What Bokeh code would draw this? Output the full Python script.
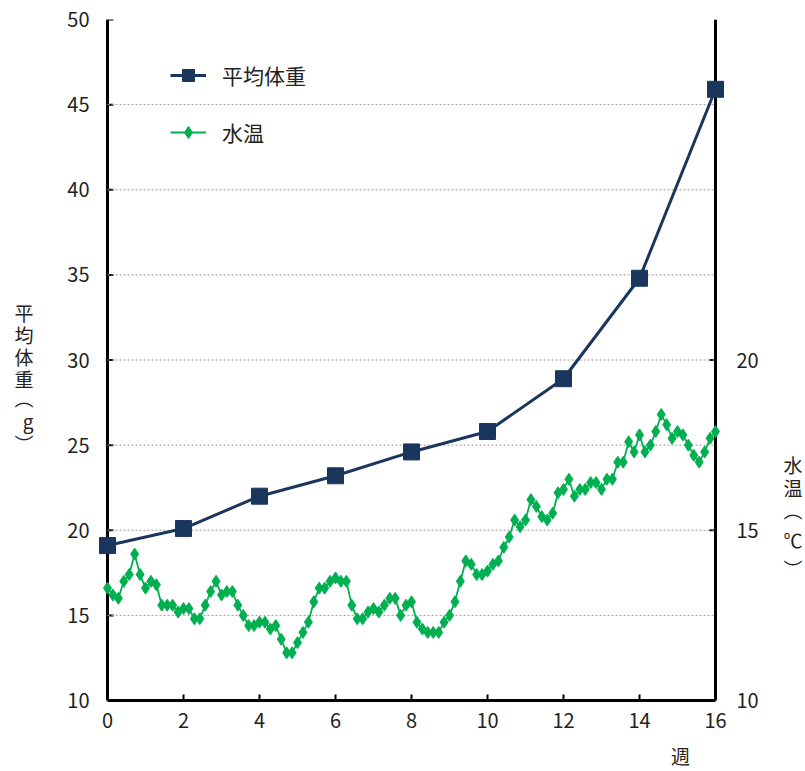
from bokeh.plotting import figure
from bokeh.models import (Range1d, LinearAxis, FixedTicker, Legend, LegendItem,
                          AllLabels)
from bokeh.embed import file_html
from bokeh.resources import INLINE

# Average body weight (g), measured every two weeks
weeks = [0, 2, 4, 6, 8, 10, 12, 14, 16]
weight = [19.1, 20.1, 22.0, 23.2, 24.6, 25.8, 28.9, 34.8, 45.9]

# Daily water temperature (°C), day 0 .. day 112
temp_days = list(range(113))
water_temp = [
    13.3, 13.1, 13.0, 13.5, 13.7, 14.3, 13.7, 13.3, 13.5, 13.4,
    12.8, 12.8, 12.8, 12.6, 12.7, 12.7, 12.4, 12.4, 12.8, 13.2,
    13.5, 13.1, 13.2, 13.2, 12.8, 12.5, 12.2, 12.2, 12.3, 12.3,
    12.1, 12.2, 11.8, 11.4, 11.4, 11.7, 12.0, 12.3, 12.9, 13.3,
    13.3, 13.5, 13.6, 13.5, 13.5, 12.8, 12.4, 12.4, 12.6, 12.7,
    12.6, 12.8, 13.0, 13.0, 12.5, 12.8, 12.9, 12.3, 12.1, 12.0,
    12.0, 12.0, 12.3, 12.5, 12.9, 13.5, 14.1, 14.0, 13.7, 13.7,
    13.8, 14.0, 14.1, 14.5, 14.8, 15.3, 15.1, 15.3, 15.9, 15.7,
    15.4, 15.3, 15.5, 16.1, 16.2, 16.5, 16.0, 16.2, 16.2, 16.4,
    16.4, 16.2, 16.5, 16.5, 17.0, 17.0, 17.6, 17.3, 17.8, 17.3,
    17.5, 17.9, 18.4, 18.1, 17.7, 17.9, 17.8, 17.5, 17.2, 17.0,
    17.3, 17.7, 17.9,
]
temp_weeks = [d / 7 for d in temp_days]

weight_ticks = [10, 15, 20, 25, 30, 35, 40, 45, 50]
grid_levels = [15, 20, 25, 30, 35, 40, 45]
temp_ticks = [10, 15, 20]
week_ticks = [0, 2, 4, 6, 8, 10, 12, 14, 16]

FONT = "Noto Sans CJK JP"
NAVY = "#1b365d"
GREEN = "#00b050"
TEXT = "#222222"

X0, X1 = 0, 16
W0, W1 = 10, 50
T0, T1 = 10, 30
PAD = 10                      # px of side padding so the end markers stay whole
PX_X = 608 / (X1 - X0)        # px per week
PX_W = 683 / (W1 - W0)        # px per gram
TICK = 6                      # inward tick length, px

p = figure(width=805, height=771, output_backend="svg", toolbar_location=None,
           x_range=Range1d(X0 - PAD / PX_X, X1 + PAD / PX_X),
           y_range=Range1d(W0, W1),
           min_border_left=107 - PAD, min_border_right=90 - PAD,
           min_border_top=19, min_border_bottom=69)
p.outline_line_color = None
p.background_fill_color = "white"
p.border_fill_color = "white"
p.extra_y_ranges = {"temp": Range1d(T0, T1)}
p.xgrid.visible = False
p.ygrid.visible = False


def label_only(ax, standoff, size="20px"):
    ax.axis_line_color = None
    ax.major_tick_line_color = None
    ax.major_tick_in = 0
    ax.major_tick_out = 0
    ax.minor_tick_line_color = None
    ax.minor_tick_in = 0
    ax.minor_tick_out = 0
    ax.major_label_text_font = FONT
    ax.major_label_text_font_size = size
    ax.major_label_text_color = TEXT
    ax.major_label_standoff = standoff
    ax.major_label_policy = AllLabels()


# bottom axis: real line and inward ticks, limited to the data box
xa = p.xaxis[0]
xa.ticker = FixedTicker(ticks=week_ticks)
xa.bounds = (X0, X1)
label_only(xa, 12)
xa.axis_line_color = "black"
xa.axis_line_width = 3
xa.major_tick_line_color = "black"
xa.major_tick_line_width = 2
xa.major_tick_in = TICK

# left and right axes carry the numbers; their lines are drawn at x = 0 / 16
ya = p.yaxis[0]
ya.ticker = FixedTicker(ticks=weight_ticks)
label_only(ya, 8)

right = LinearAxis(y_range_name="temp", ticker=FixedTicker(ticks=temp_ticks))
label_only(right, 11)
p.add_layout(right, "right")


def px_y(py):
    return round(W0 + (702 - py) / PX_W, 2)


def px_x(px):
    return round(X0 + (px - 107) / PX_X, 2)


# axis titles, set upright one character per row
def title_axis(chars, rows, side, standoff):
    ys = [px_y(r) for r in rows]
    ax = LinearAxis(ticker=FixedTicker(ticks=ys),
                    major_label_overrides=dict(zip(ys, chars)))
    label_only(ax, standoff, "19px")
    p.add_layout(ax, side)


title_axis(["平", "均", "体", "重", "︵", "g", "︶"],
           [313, 335, 357, 379, 398, 421, 444], "left", 31)
title_axis(["水", "温", "︵", "℃", "︶"],
           [465, 488, 510, 541, 570], "right", 22)

wk = px_x(680)
week_title = LinearAxis(ticker=FixedTicker(ticks=[wk]),
                        major_label_overrides={wk: "週"})
label_only(week_title, 11, "19px")
p.add_layout(week_title, "below")

# vertical axis lines and their inward ticks
p.segment(x0=[X0], x1=[X0], y0=[W0], y1=[W1], line_color="black", line_width=3)
p.segment(x0=[X1], x1=[X1], y0=[T0], y1=[T1], y_range_name="temp",
          line_color="black", line_width=3)
p.segment(x0=[X0] * len(weight_ticks), x1=[X0 + TICK / PX_X] * len(weight_ticks),
          y0=weight_ticks, y1=weight_ticks, line_color="black", line_width=2)
p.segment(x0=[X1 - TICK / PX_X] * len(temp_ticks), x1=[X1] * len(temp_ticks),
          y0=temp_ticks, y1=temp_ticks, y_range_name="temp",
          line_color="black", line_width=2)

# dotted horizontal guides between the two vertical axes
p.segment(x0=[X0] * len(grid_levels), x1=[X1] * len(grid_levels),
          y0=grid_levels, y1=grid_levels,
          line_color="#9a9a9a", line_dash="2 2", line_width=1)

# water temperature series
t_line = p.line(temp_weeks, water_temp, y_range_name="temp",
                line_color=GREEN, line_width=1.8)
t_pts = p.scatter(temp_weeks, water_temp, y_range_name="temp", marker="diamond",
                  size=12, fill_color=GREEN, line_color=GREEN)

# body weight series
w_line = p.line(weeks, weight, line_color=NAVY, line_width=3)
w_pts = p.scatter(weeks, weight, marker="square", size=16,
                  fill_color=NAVY, line_color=NAVY)

legend = Legend(items=[LegendItem(label="平均体重", renderers=[w_line, w_pts]),
                       LegendItem(label="水温", renderers=[t_line, t_pts])],
                location=(63 + PAD, 553), orientation="vertical",
                background_fill_alpha=0, border_line_color=None,
                padding=0, margin=0, spacing=27,
                glyph_width=36, glyph_height=30, label_height=30,
                label_standoff=16,
                label_text_font=FONT, label_text_font_size="21px",
                label_text_color=TEXT)
p.add_layout(legend, "center")

open("out.html", "w").write(file_html(p, INLINE))
